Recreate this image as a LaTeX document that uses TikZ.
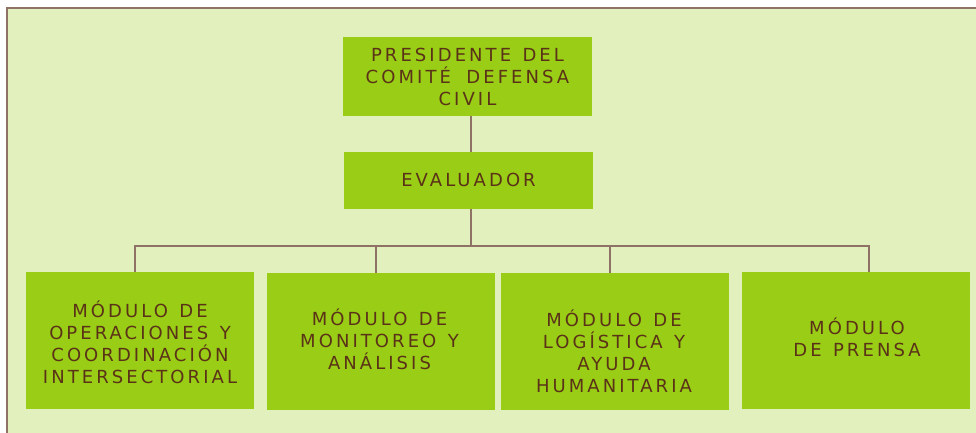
\documentclass[tikz,border=0pt]{standalone}
\usepackage{fontspec}
\newfontfamily\orgfont[LetterSpace=17,WordSpace=1.3]{DejaVu Sans}
\definecolor{bgc}{HTML}{E2F0BD}
\definecolor{boxc}{HTML}{9ACD15}
\definecolor{linec}{HTML}{8E7266}
\definecolor{txtc}{HTML}{5A3218}
\begin{document}
\begin{tikzpicture}[x=1pt,y=-1pt,
  orgbox/.style={fill=boxc, draw=none, inner sep=0pt, outer sep=0pt},
  orgtxt/.style={font=\orgfont\fontsize{18}{22}\selectfont, text=txtc, align=center, inner sep=0pt},
  link/.style={draw=linec, line width=2pt}]
\useasboundingbox (0,0) rectangle (976,433);
\fill[bgc] (7,8) rectangle (976,433);
\draw[linec, line width=2pt] (7,433) -- (7,8) -- (976,8);
% boxes
\node[orgbox, minimum width=249pt, minimum height=79pt] (pres) at (467.5,76.5) {};
\node[orgbox, minimum width=249pt, minimum height=57pt] (eval) at (468.5,180.5) {};
\node[orgbox, minimum width=228pt, minimum height=137pt] (m1) at (140,340.5) {};
\node[orgbox, minimum width=228pt, minimum height=137pt] (m2) at (381,341.5) {};
\node[orgbox, minimum width=228pt, minimum height=137pt] (m3) at (615,341.5) {};
\node[orgbox, minimum width=228pt, minimum height=137pt] (m4) at (856,340.5) {};
% texts
\node[orgtxt] (prest) at (467.5,75.7) {\vphantom{Ó}PRESIDENTE DEL\\COMITÉ\hspace{4pt} DEFENSA\\CIVIL};
\node[orgtxt] (evalt) at (468.5,177.9) {\vphantom{Ó}EVALUADOR};
\node[orgtxt] (m1t) at (140,342.2) {\vphantom{Ó}MÓDULO DE\\OPERACIONES Y\\COORDINACIÓN\\INTERSECTORIAL};
\node[orgtxt] (m2t) at (379.5,339.7) {\vphantom{Ó}MÓDULO DE\\MONITOREO Y\\ANÁLISIS};
\node[orgtxt] (m3t) at (614,351.2) {\vphantom{Ó}MÓDULO DE\\LOGÍSTICA Y\\AYUDA\\HUMANITARIA};
\node[orgtxt] (m4t) at (857,336.9) {\vphantom{Ó}MÓDULO\\DE PRENSA};
% connectors
\coordinate (trunk) at (470.8,246);
\coordinate (d1) at (135,246);
\coordinate (d2) at (375.5,246);
\coordinate (d3) at (609.5,246);
\coordinate (d4) at (868.5,246);
\draw[link] (pres.south -| trunk) -- (eval.north -| trunk);
\draw[link] (eval.south -| trunk) -- (trunk);
\draw[link] (m1.north -| d1) -- (d1) -- (d4) -- (m4.north -| d4);
\draw[link] (d2) -- (m2.north -| d2);
\draw[link] (d3) -- (m3.north -| d3);
\end{tikzpicture}
\end{document}
